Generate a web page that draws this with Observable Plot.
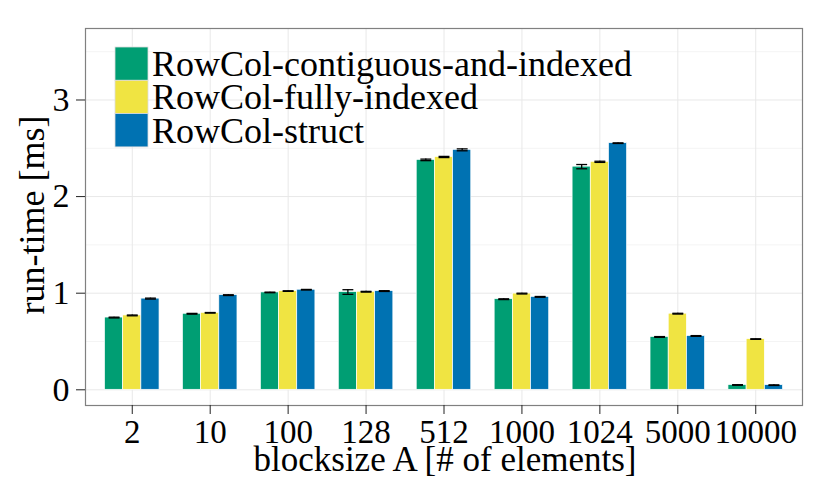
<!DOCTYPE html>
<html><head><meta charset="utf-8">
<script src="https://cdn.jsdelivr.net/npm/d3@7"></script>
<script src="https://cdn.jsdelivr.net/npm/@observablehq/plot@0.6"></script>
<style>
html,body{margin:0;padding:0;background:#fff;overflow:hidden}
#chart{position:relative;width:830px;height:498px}
</style></head><body><div id="chart"></div>
<script>
// ---- data ----
const categories = ["2","10","100","128","512","1000","1024","5000","10000"];
const series = ["RowCol-contiguous-and-indexed","RowCol-fully-indexed","RowCol-struct"];
const colors = ["#009E73","#F0E442","#0072B2"];
const contiguous = [0.748,0.787,1.008,1.012,2.380,0.938,2.310,0.547,0.050];
const fully      = [0.770,0.797,1.022,1.015,2.410,0.996,2.360,0.788,0.525];
const struct     = [0.944,0.980,1.036,1.022,2.484,0.962,2.553,0.557,0.048];
const errContiguous = [0.004,0.004,0.003,0.024,0.008,0.004,0.022,0.004,0.003];
const errFully      = [0.004,0.003,0.003,0.004,0.006,0.004,0.006,0.004,0.003];
const errStruct     = [0.005,0.004,0.003,0.004,0.010,0.004,0.003,0.004,0.003];
const yTicks = [0,1,2,3];
const yMinor = [0.5,1.5,2.5,3.5];
const xTitle = "blocksize A [# of elements]";
const yTitle = "run-time [ms]";

const values = [contiguous, fully, struct];
const errors = [errContiguous, errFully, errStruct];
const dodge = 0.7 / 3;
const capW = 0.14;
const rows = [];
categories.forEach((c, i) => {
  series.forEach((s, k) => {
    rows.push({cat: c, idx: i + 1, series: s, xc: i + 1 + (k - 1) * dodge,
               value: values[k][i], err: errors[k][i]});
  });
});
const catIdx = categories.map((c, i) => i + 1);

const font = "'Liberation Serif', 'DejaVu Serif', serif";

const svg = Plot.plot({
  width: 830, height: 498,
  marginLeft: 85, marginRight: 28, marginTop: 28, marginBottom: 93,
  style: {fontFamily: font, fontSize: "33px", color: "black", background: "white"},
  x: {type: "linear", domain: [0.4, 9.6]},
  y: {domain: [-0.1625, 3.74]},
  color: {domain: series, range: colors},
  marks: [
    Plot.ruleY(yMinor, {stroke: "#f4f4f4", strokeWidth: 1}),
    Plot.ruleY(yTicks, {stroke: "#e8e8e8", strokeWidth: 1}),
    Plot.ruleX(catIdx, {stroke: "#e8e8e8", strokeWidth: 1}),
    Plot.rect(rows, {x1: d => d.xc - dodge / 2, x2: d => d.xc + dodge / 2,
                     y1: 0, y2: "value", fill: "series", stroke: "white", strokeWidth: 0.7}),
    Plot.ruleX(rows, {x: "xc", y1: d => d.value - d.err, y2: d => d.value + d.err,
                      stroke: "black", strokeWidth: 1.3}),
    Plot.link(rows, {x1: d => d.xc - capW / 2, x2: d => d.xc + capW / 2,
                     y1: d => d.value + d.err, y2: d => d.value + d.err,
                     stroke: "black", strokeWidth: 1.3}),
    Plot.link(rows, {x1: d => d.xc - capW / 2, x2: d => d.xc + capW / 2,
                     y1: d => d.value - d.err, y2: d => d.value - d.err,
                     stroke: "black", strokeWidth: 1.3}),
    Plot.frame({stroke: "#808080", strokeWidth: 1.2}),
    Plot.axisX(catIdx, {tickFormat: i => categories[i - 1], tickSize: 9, tickPadding: 5,
                        fontSize: 33, label: null, stroke: "#222"}),
    Plot.axisY(yTicks, {tickFormat: d => d3.format("d")(d), tickSize: 9, tickPadding: 7,
                        fontSize: 34, label: null, stroke: "#222"})
  ]
});

const root = d3.select(svg);
// legend
const leg = root.append("g").attr("text-anchor", "start");
series.forEach((s, k) => {
  leg.append("rect")
    .attr("x", 115).attr("y", 47 + k * 33.3)
    .attr("width", 33).attr("height", 33.3)
    .attr("fill", colors[k]).attr("stroke", "#dcdcdc").attr("stroke-width", 0.8);
  leg.append("text")
    .attr("x", 152).attr("y", 76 + k * 33.3)
    .attr("text-anchor", "start")
    .attr("font-family", font).attr("font-size", 36).attr("fill", "black")
    .text(s);
});
// axis titles
root.append("text")
  .attr("x", 445).attr("y", 471)
  .attr("text-anchor", "middle")
  .attr("font-family", font).attr("font-size", 35).attr("fill", "black")
  .text(xTitle);
root.append("text")
  .attr("transform", "translate(44,215) rotate(-90)")
  .attr("text-anchor", "middle")
  .attr("font-family", font).attr("font-size", 36).attr("fill", "black")
  .text(yTitle);

document.getElementById("chart").appendChild(svg);
</script>
</body></html>
